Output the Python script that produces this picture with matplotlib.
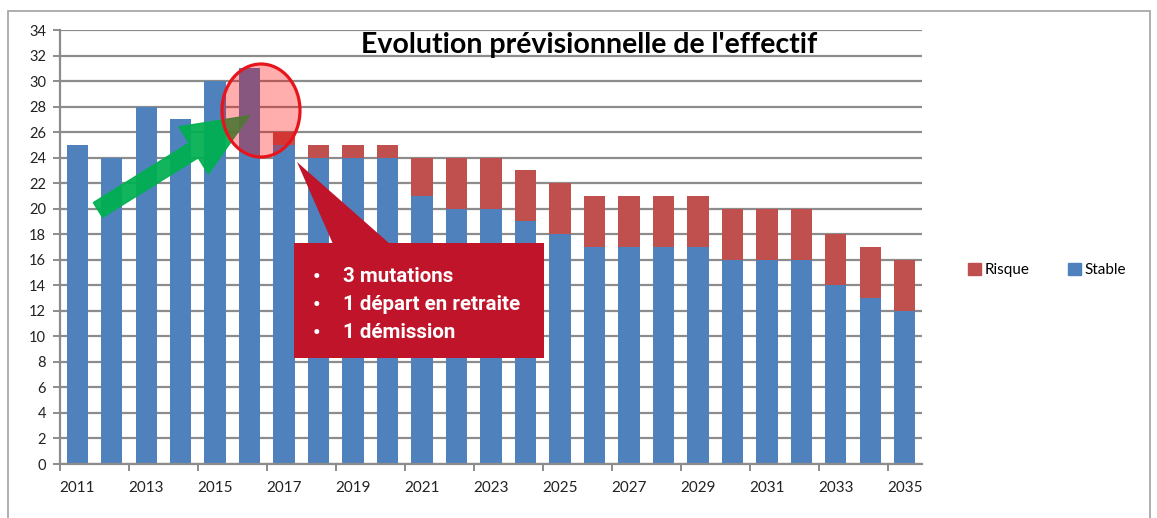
import numpy as np
import matplotlib.pyplot as plt
from matplotlib.patches import Patch, Rectangle, Polygon, Ellipse

plt.rcParams['font.family'] = ['Lato', 'DejaVu Sans']

W, H = 1157, 518

years = list(range(2011, 2036))
stable = [25, 24, 28, 27, 30, 31, 25, 24, 24, 24, 21, 20, 20, 19, 18,
          17, 17, 17, 17, 16, 16, 16, 14, 13, 12]
risque = [0, 0, 0, 0, 0, 0, 1, 1, 1, 1, 3, 4, 4, 4, 4,
          4, 4, 4, 4, 4, 4, 4, 4, 4, 4]
callout_lines = ["3 mutations", "1 départ en retraite", "1 démission"]
title = "Evolution prévisionnelle de l'effectif"

blue = '#4F81BD'
red = '#C0504D'
grid_c = '#8C8C8C'


def fx(x):
    return x / W


def fy(y):
    return 1 - y / H


fig = plt.figure(figsize=(W / 100, H / 100), dpi=100)
ax = fig.add_axes([fx(60), fy(464), fx(922) - fx(60), fy(30) - fy(464)])

x = np.arange(len(years))
ax.bar(x, stable, width=0.62, color=blue, zorder=2)
ax.bar(x, risque, width=0.62, bottom=stable, color=red, zorder=2)

ax.set_xlim(-0.5, len(years) - 0.5)
ax.set_ylim(0, 34)
ax.set_yticks(range(0, 35, 2))
ax.yaxis.grid(True, color=grid_c, linewidth=1.6)
ax.set_axisbelow(True)

ax.set_xticks(x[::2])
ax.set_xticklabels([str(y) for y in years[::2]], fontsize=11, color='#222')
ax.set_xticks(np.arange(-0.5, len(years) - 1, 2), minor=True)
ax.tick_params(axis='x', which='major', length=0, pad=12)
ax.tick_params(axis='x', which='minor', length=5, width=1.4, color=grid_c)
ax.tick_params(axis='y', length=5, width=1.4, color=grid_c, labelsize=10.5,
               labelcolor='#222', pad=5)
for s in ['top', 'right']:
    ax.spines[s].set_visible(False)
for s in ['left', 'bottom']:
    ax.spines[s].set_color(grid_c)
    ax.spines[s].set_linewidth(1.6)

fig.text(fx(589), fy(45), title, fontsize=20.5, fontweight='bold',
         ha='center', va='center')

# outer frame
fig.patches.append(Rectangle((fx(8), fy(540)), fx(1150) - fx(8), fy(11) - fy(540),
                             transform=fig.transFigure, fill=False,
                             edgecolor='#A8A8A8', linewidth=1.3))

# legend
handles = [Patch(color=red, label='Risque'), Patch(color=blue, label='Stable')]
fig.legend(handles=handles, loc='center left', bbox_to_anchor=(fx(960), fy(270)),
           ncol=2, frameon=False, fontsize=11, handlelength=0.85,
           handleheight=0.85, handletextpad=0.25, columnspacing=2.5, borderpad=0)

# highlight ellipse
fig.patches.append(Ellipse((fx(261), fy(110.5)), fx(78), 93 / H,
                           transform=fig.transFigure, facecolor=(1, 0, 0, 0.32),
                           edgecolor='#E8141C', linewidth=2.3, zorder=5))

# green arrow
ax.annotate('', xy=(5.0, 27.3), xytext=(0.6, 19.9),
            arrowprops=dict(arrowstyle='simple,head_length=0.95,head_width=0.8,tail_width=0.25',
                            mutation_scale=50, color='#00B050', alpha=0.93,
                            shrinkA=0, shrinkB=0), zorder=6)

# callout
callout_red = '#C0142A'
fig.patches.append(Polygon([(fx(297), fy(162)), (fx(333), fy(244)), (fx(390), fy(244))],
                           closed=True, transform=fig.transFigure,
                           facecolor=callout_red, edgecolor='none', zorder=6))
fig.patches.append(Rectangle((fx(294), fy(358)), fx(544) - fx(294), fy(243) - fy(358),
                             transform=fig.transFigure, facecolor=callout_red,
                             edgecolor='none', zorder=6))
for i, line in enumerate(callout_lines):
    yy = fy(277 + 28 * i)
    fig.text(fx(316), yy, '•', color='white', fontsize=15, fontweight='bold',
             ha='center', va='center', family=['Roboto', 'DejaVu Sans'], zorder=7)
    fig.text(fx(343), yy, line, color='white', fontsize=14.8, fontweight='bold',
             ha='left', va='center', family=['Roboto', 'DejaVu Sans'], zorder=7)

fig.savefig('out.png', dpi=100)
